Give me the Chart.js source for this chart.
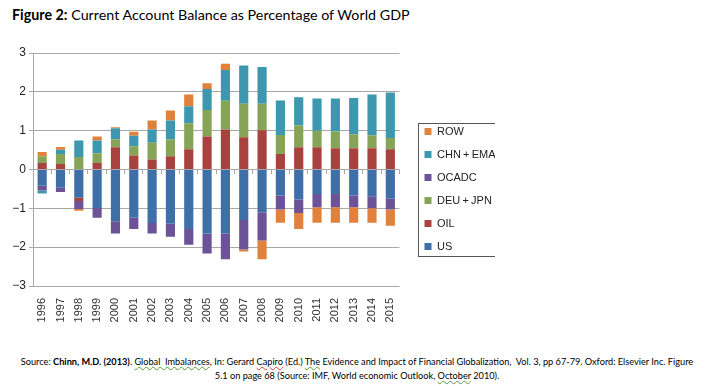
<!DOCTYPE html>
<html>
<head>
<meta charset="utf-8">
<script src="https://cdn.jsdelivr.net/npm/chart.js@4.4.1/dist/chart.umd.min.js"></script>
<style>
  body { margin: 0; background: #fff; width: 714px; height: 386px; position: relative; overflow: hidden; }
  #title { position: absolute; left: 12px; top: 6px; font-family: Lato, "Open Sans", sans-serif; font-size: 14.3px; color: #000; white-space: nowrap; }
  #wrap { position: absolute; left: 0; top: 40px; width: 495px; height: 285px; }
  #source { position: absolute; left: 0; top: 355px; width: 714px; text-align: center; font-family: Lato, "Open Sans", sans-serif; font-size: 9.2px; line-height: 14px; color: #000; }
  .sq { text-decoration: underline wavy #5a9a3a; text-decoration-thickness: 1px; }
  .sqr { text-decoration: underline wavy #d04040; text-decoration-thickness: 1px; }
</style>
</head>
<body>
<div id="title"><b>Figure 2:</b> Current Account Balance as Percentage of World GDP</div>
<div id="wrap"><canvas id="myChart"></canvas></div>
<div id="source">Source: <b>Chinn, M.D. (2013)</b>. <span class="sq">Global&nbsp; Imbalances</span>, In: Gerard <span class="sqr">Capiro</span> (Ed.) <span class="sq">The</span> Evidence and Impact of Financial Globalization,&nbsp; Vol. 3, pp 67-79. Oxford: Elsevier Inc. Figure<br>5.1 on page 68 (Source: IMF, World economic Outlook, <span class="sq">October</span> 2010).</div>
<script>
  const years = ['1996', '1997', '1998', '1999', '2000', '2001', '2002', '2003', '2004', '2005',
    '2006', '2007', '2008', '2009', '2010', '2011', '2012', '2013', '2014', '2015'];

  const us = [-0.42, -0.47, -0.73, -0.99, -1.33, -1.24, -1.38, -1.40, -1.53, -1.65,
    -1.65, -1.30, -1.10, -0.67, -0.77, -0.63, -0.63, -0.67, -0.69, -0.75];
  const oil = [0.17, 0.14, -0.08, 0.17, 0.57, 0.36, 0.26, 0.34, 0.52, 0.85,
    1.03, 0.83, 1.01, 0.40, 0.57, 0.57, 0.55, 0.55, 0.55, 0.52];
  const deuJpn = [0.17, 0.26, 0.32, 0.25, 0.21, 0.24, 0.43, 0.44, 0.67, 0.68,
    0.74, 0.86, 0.68, 0.49, 0.56, 0.43, 0.43, 0.36, 0.33, 0.29];
  const ocadc = [-0.12, -0.11, -0.21, -0.25, -0.32, -0.29, -0.27, -0.33, -0.41, -0.51,
    -0.66, -0.76, -0.73, -0.36, -0.35, -0.34, -0.34, -0.30, -0.31, -0.28];
  const chnEma = [-0.08, 0.11, 0.43, 0.33, 0.28, 0.27, 0.34, 0.48, 0.44, 0.54,
    0.79, 0.99, 0.95, 0.89, 0.73, 0.83, 0.85, 0.93, 1.05, 1.17];
  const row = [0.11, 0.07, -0.04, 0.10, 0.03, 0.10, 0.23, 0.26, 0.30, 0.15,
    0.16, -0.05, -0.48, -0.34, -0.41, -0.40, -0.40, -0.40, -0.37, -0.42];

  const gridGrey = '#a8a8a8';

  // draws the frame round the legend
  const legendFrame = {
    id: 'legendFrame',
    afterDraw(chart) {
      const boxes = chart.legend.legendHitBoxes;
      if (!boxes || !boxes.length) return;
      let l = Infinity, t = Infinity, r = -Infinity, b = -Infinity;
      boxes.forEach(h => {
        l = Math.min(l, h.left); t = Math.min(t, h.top);
        r = Math.max(r, h.left + h.width); b = Math.max(b, h.top + h.height);
      });
      const ctx = chart.ctx;
      ctx.save();
      ctx.strokeStyle = '#555';
      ctx.lineWidth = 1;
      ctx.strokeRect(Math.round(l - 7) + 0.5, Math.round(t - 3) + 0.5, Math.round(r - l + 8), Math.round(b - t + 7));
      ctx.restore();
    }
  };

  const data = {
    labels: years,
    datasets: [
      { label: 'US', data: us, backgroundColor: '#3f6fa7' },
      { label: 'OIL', data: oil, backgroundColor: '#a8423f' },
      { label: 'DEU\u2009+\u2009JPN', data: deuJpn, backgroundColor: '#86a457' },
      { label: 'OCADC', data: ocadc, backgroundColor: '#6c5397' },
      { label: 'CHN\u2009+\u2009EMA', data: chnEma, backgroundColor: '#3d97ae' },
      { label: 'ROW', data: row, backgroundColor: '#e0823b' }
    ]
  };

  const config = {
    type: 'bar',
    data: data,
    options: {
      responsive: true,
      maintainAspectRatio: false,
      animation: false,
      layout: { padding: { top: 13, left: 0, right: 0, bottom: 0 } },
      datasets: { bar: { barPercentage: 0.5, categoryPercentage: 1.0 } },
      plugins: {
        tooltip: { enabled: false },
        legend: {
          position: 'right',
          reverse: true,
          labels: {
            boxWidth: 7,
            boxHeight: 7,
            padding: 12,
            color: '#222',
            font: { family: '"Liberation Sans", Arial, sans-serif', size: 11 }
          }
        }
      },
      scales: {
        x: {
          stacked: true,
          grid: { display: false },
          border: { display: false },
          ticks: {
            minRotation: 90,
            maxRotation: 90,
            autoSkip: false,
            padding: 4,
            color: '#333',
            font: { family: '"Liberation Sans", Arial, sans-serif', size: 11 }
          },
          afterFit: s => { s.height = 39; }
        },
        x0: {
          type: 'category',
          position: { y: 0 },
          offset: true,
          grid: { drawOnChartArea: false, drawTicks: true, tickLength: 4, color: gridGrey, offset: true },
          border: { display: false },
          ticks: { display: false }
        },
        y: {
          stacked: true,
          min: -3,
          max: 3,
          ticks: {
            stepSize: 1,
            padding: 3,
            color: '#222',
            font: { family: '"Liberation Sans", Arial, sans-serif', size: 12 },
            callback: v => v < 0 ? '\u2212' + Math.abs(v) : String(v)
          },
          grid: { color: gridGrey, lineWidth: 1, tickLength: 4 },
          border: { color: gridGrey },
          afterFit: s => { s.width = 33; }
        },
        yR: {
          type: 'linear',
          position: 'right',
          grid: { display: false },
          border: { display: false },
          ticks: { display: false },
          afterFit: s => { s.width = 13; }
        }
      }
    },
    plugins: [legendFrame]
  };

  const myChart = new Chart(document.getElementById('myChart'), config);
</script>
</body>
</html>
